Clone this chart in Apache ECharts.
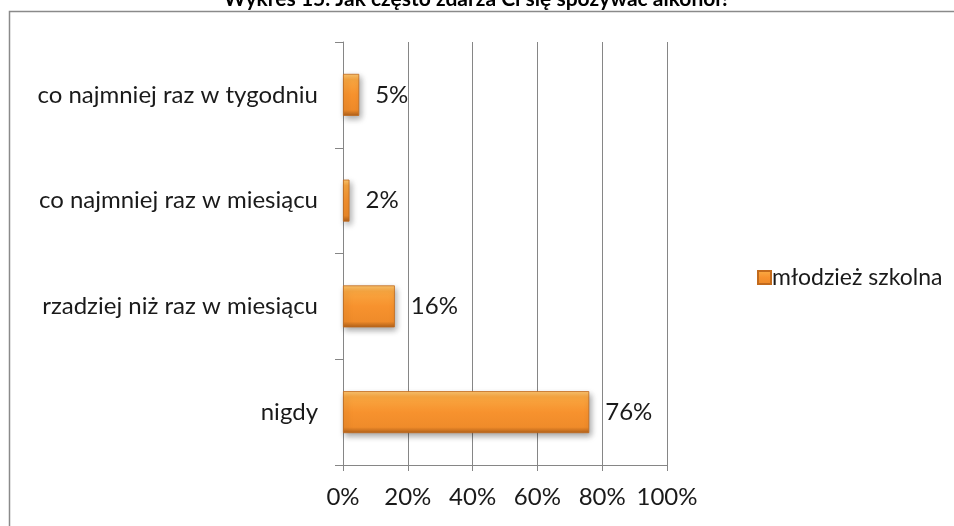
<!DOCTYPE html>
<html>
<head>
<meta charset="utf-8">
<script src="https://cdn.jsdelivr.net/npm/echarts@6/dist/echarts.min.js"></script>
<style>html,body{margin:0;padding:0;background:#fff;}#c{width:954px;height:526px;}</style>
</head>
<body>
<div id="c"></div>
<script>
const titleText = 'Wykres 15. Jak często zdarza Ci się spożywać alkohol?';
const seriesName = 'młodzież szkolna';
const categories = ['nigdy', 'rzadziej niż raz w miesiącu', 'co najmniej raz w miesiącu', 'co najmniej raz w tygodniu'];
const values = [76, 16, 2, 5];
const xTicks = [0, 20, 40, 60, 80, 100];

const FONT = 'Lato, "Open Sans", sans-serif';
const chart = echarts.init(document.getElementById('c'), null, {renderer: 'canvas'});
const barColor = new echarts.graphic.LinearGradient(0, 0, 0, 1, [
  {offset: 0, color: '#fcc670'},
  {offset: 0.14, color: '#f9a640'},
  {offset: 0.5, color: '#f7922e'},
  {offset: 0.86, color: '#ef8b2a'},
  {offset: 1, color: '#b0601a'}
]);
chart.setOption({
  animation: false,
  textStyle: {fontFamily: FONT},
  title: {
    text: titleText,
    left: 'center',
    top: -16,
    textStyle: {fontFamily: FONT, fontSize: 21, fontWeight: 'bold', color: '#000'}
  },
  graphic: [{
    type: 'rect',
    shape: {x: 9.5, y: 11.5, width: 980, height: 560},
    style: {fill: null, stroke: '#8a8a8a', lineWidth: 1.5},
    z: -1
  }],
  legend: {
    data: [seriesName],
    left: 757,
    top: 266,
    padding: 0,
    itemWidth: 13,
    itemHeight: 13,
    icon: 'rect',
    textStyle: {fontFamily: FONT, fontSize: 23, color: '#1a1a1a', padding: [0, 0, 0, -4]}
  },
  grid: {left: 343, right: 287, top: 42, bottom: 61, containLabel: false},
  xAxis: {
    type: 'value',
    min: 0, max: 100, interval: 20,
    axisLine: {show: true, lineStyle: {color: '#868686', width: 1}},
    axisTick: {show: true, length: 6, lineStyle: {color: '#868686'}},
    splitLine: {show: true, lineStyle: {color: '#868686', width: 1}},
    axisLabel: {
      fontFamily: FONT, fontSize: 24, color: '#1a1a1a', margin: 20,
      formatter: v => xTicks.includes(v) ? v + '%' : ''
    }
  },
  yAxis: {
    type: 'category',
    data: categories,
    axisLine: {show: true, lineStyle: {color: '#868686', width: 1}},
    axisTick: {show: true, length: 8, lineStyle: {color: '#868686'}},
    axisLabel: {fontFamily: FONT, fontSize: 24, color: '#1a1a1a', margin: 25}
  },
  series: [{
    name: seriesName,
    type: 'bar',
    data: values,
    barWidth: 42,
    itemStyle: {
      color: barColor,
      borderColor: '#c26a1c',
      borderWidth: 0.8,
      shadowBlur: 6,
      shadowColor: 'rgba(0,0,0,0.35)',
      shadowOffsetX: 2,
      shadowOffsetY: 3
    },
    label: {
      show: true,
      position: 'right',
      distance: 16,
      fontFamily: FONT,
      fontSize: 24,
      color: '#1a1a1a',
      formatter: p => p.value + '%'
    }
  }]
});
</script>
</body>
</html>
